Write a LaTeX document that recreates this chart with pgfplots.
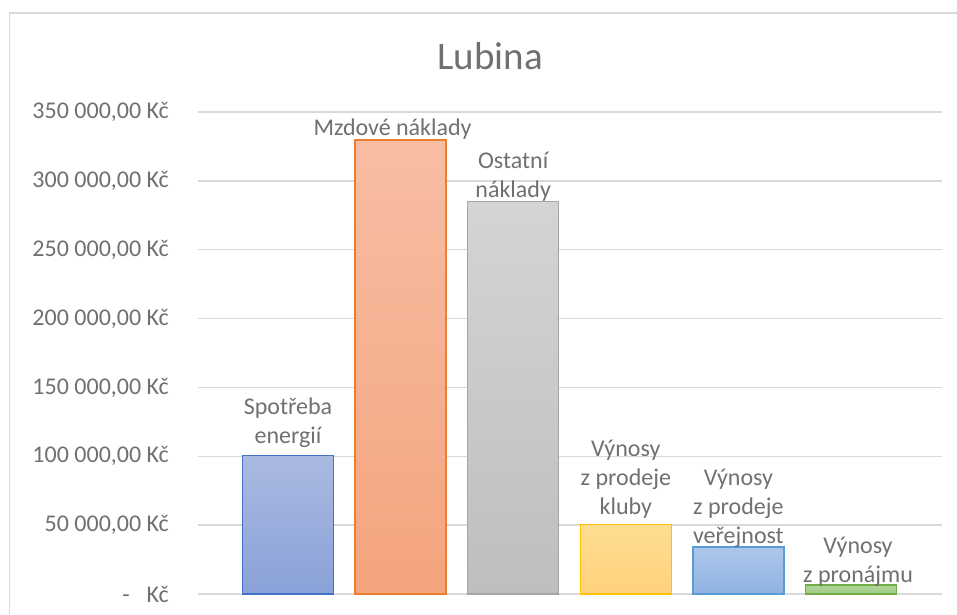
\documentclass[border=0pt]{standalone}
\usepackage{fontspec}
\setmainfont{Carlito}
\usepackage{pgfplots}
\pgfplotsset{compat=1.18}
\definecolor{txt}{HTML}{707070}
\definecolor{gridc}{HTML}{D9D9D9}
\definecolor{bBd}{HTML}{4472C4}\definecolor{bTop}{HTML}{AAB9E1}\definecolor{bBot}{HTML}{8AA2D8}
\definecolor{oBd}{HTML}{ED7D31}\definecolor{oTop}{HTML}{F7BDA3}\definecolor{oBot}{HTML}{F4A47E}
\definecolor{gBd}{HTML}{A5A5A5}\definecolor{gTop}{HTML}{D4D4D4}\definecolor{gBot}{HTML}{BEBEBE}
\definecolor{yBd}{HTML}{FFC000}\definecolor{yTop}{HTML}{FFDD92}\definecolor{yBot}{HTML}{FFD27C}
\definecolor{lBd}{HTML}{5B9BD5}\definecolor{lTop}{HTML}{ADC7EA}\definecolor{lBot}{HTML}{8FB3E2}
\definecolor{nBd}{HTML}{70AD47}\definecolor{nTop}{HTML}{B0D598}\definecolor{nBot}{HTML}{9FCB85}
\begin{document}
\begin{tikzpicture}
\useasboundingbox (0,0) rectangle (957pt,614pt);
\draw[gridc, line width=1.2pt] (9.5pt,0pt) -- (9.5pt,601pt) -- (957pt,601pt);
\begin{axis}[
  at={(198pt,20pt)}, anchor=south west,
  scale only axis, width=744pt, height=482pt,
  xmin=-0.799, xmax=5.808, ymin=0, ymax=350000,
  ybar, bar width=91pt,
  xtick=\empty,
  scaled y ticks=false,
  ytick={0,50000,100000,150000,200000,250000,300000,350000},
  yticklabels={{-\hspace{17pt}Kč},{50 000,00 Kč},{100 000,00 Kč},{150 000,00 Kč},{200 000,00 Kč},{250 000,00 Kč},{300 000,00 Kč},{350 000,00 Kč}},
  yticklabel style={anchor=east, inner sep=0pt, xshift=-29pt, text=txt, font=\fontsize{24}{29}\selectfont},
  major tick length=0pt,
  axis line style={draw=none},
  ymajorgrids, grid style={color=gridc, line width=1.3pt},
  title=Lubina,
  title style={at={(0.3925,1.094)}, anchor=base, yshift=-9pt, text=txt, font=\fontsize{39}{44}\selectfont},
  every node near coord/.append style={font=\fontsize{24}{29}\selectfont, text=txt, align=center, anchor=south, inner sep=0pt},
  clip=false,
]
\addplot[draw=bBd, line width=1.5pt, top color=bTop, bottom color=bBot, bar shift=0pt,
  nodes near coords={Spotřeba\\energií}, nodes near coords style={yshift=7pt}] coordinates {(0,100400)};
\addplot[draw=oBd, line width=1.5pt, top color=oTop, bottom color=oBot, bar shift=0pt,
  nodes near coords={Mzdové náklady}, nodes near coords style={yshift=0pt, xshift=-8pt}] coordinates {(1,329700)};
\addplot[draw=gBd, line width=1.5pt, top color=gTop, bottom color=gBot, bar shift=0pt,
  nodes near coords={Ostatní\\náklady}, nodes near coords style={yshift=0pt}] coordinates {(2,284900)};
\addplot[draw=yBd, line width=1.5pt, top color=yTop, bottom color=yBot, bar shift=0pt,
  nodes near coords={Výnosy\\z prodeje\\kluby}, nodes near coords style={yshift=6pt}] coordinates {(3,50300)};
\addplot[draw=lBd, line width=1.5pt, top color=lTop, bottom color=lBot, bar shift=0pt,
  nodes near coords={Výnosy\\z prodeje\\veřejnost}, nodes near coords style={yshift=-2pt}] coordinates {(4,34300)};
\addplot[draw=nBd, line width=1.5pt, top color=nTop, bottom color=nBot, bar shift=0pt,
  nodes near coords={Výnosy\\z pronájmu}, nodes near coords style={yshift=-2pt, xshift=7pt}] coordinates {(5,6500)};
\end{axis}
\end{tikzpicture}
\end{document}
